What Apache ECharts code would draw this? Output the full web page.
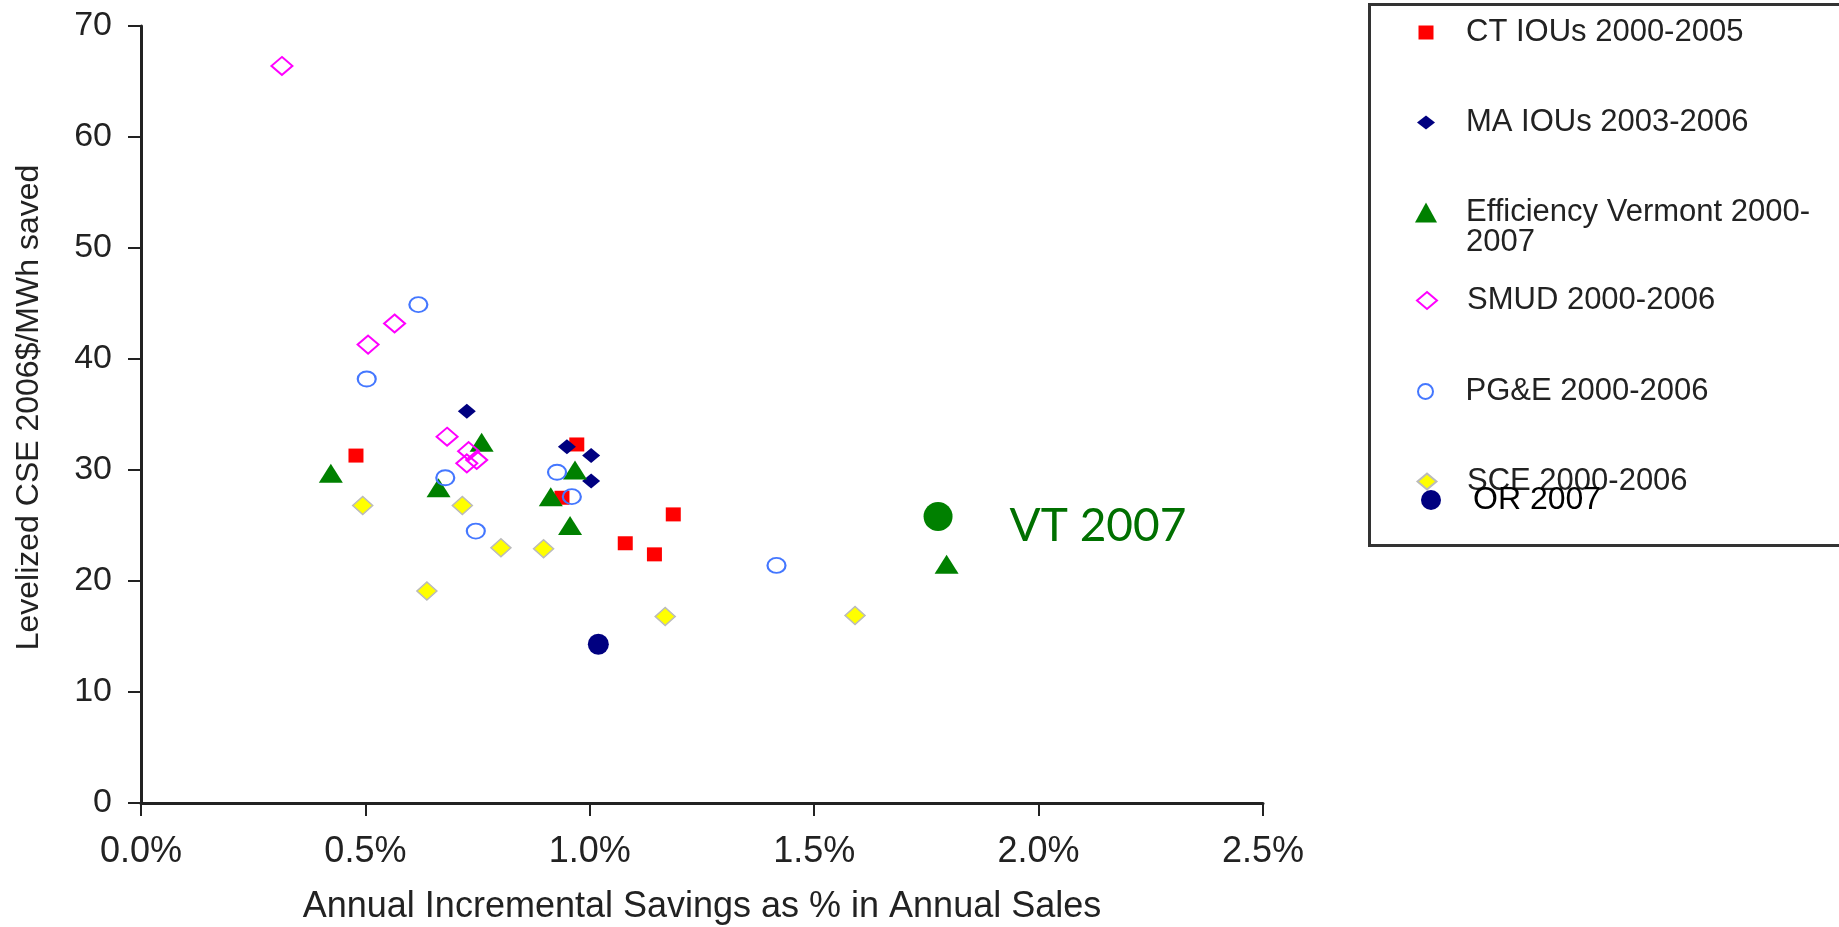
<!DOCTYPE html>
<html>
<head>
<meta charset="utf-8">
<title>CSE vs savings</title>
<script src="https://cdn.jsdelivr.net/npm/echarts@6/dist/echarts.min.js"></script>
<style>
  html, body { margin: 0; padding: 0; background: #fff; }
  #cse-scatter { width: 1839px; height: 927px; }
</style>
</head>
<body>
<div id="cse-scatter"></div>
<script>
// x = annual incremental savings (% of sales), y = levelized CSE (2006$/MWh)
var ctIous = [[0.479, 31.3], [0.971, 32.3], [0.938, 27.5], [1.079, 23.4], [1.144, 22.4], [1.186, 26.0]];
var maIous = [[0.726, 35.3], [0.949, 32.1], [1.003, 31.3], [1.003, 29.0]];
var effVermont = [[0.423, 29.7], [0.759, 32.5], [0.663, 28.4], [0.967, 30.0], [0.913, 27.6], [0.956, 25.0], [1.795, 21.5]];
var smud = [[0.314, 66.4], [0.506, 41.3], [0.565, 43.2], [0.682, 33.0], [0.730, 31.7], [0.748, 30.9], [0.726, 30.6]];
var pge = [[0.503, 38.2], [0.618, 44.9], [0.678, 29.3], [0.746, 24.5], [0.927, 29.8], [0.960, 27.6], [1.416, 21.4]];
var sce = [[0.494, 26.8], [0.716, 26.8], [0.802, 23.0], [0.897, 22.9], [0.637, 19.1], [1.168, 16.8], [1.591, 16.9]];
var or2007 = [[1.019, 14.3]];
var vt2007 = [[1.776, 25.8]];

var xTicks = ['0.0%', '0.5%', '1.0%', '1.5%', '2.0%', '2.5%'];

var font = '"Liberation Sans", Arial, sans-serif';

// one legend per entry so each row sits where it does in the original box
// cx/cy = icon centre, w/h = icon size, tx = where the text starts
function legendRow(name, cx, cy, w, h, tx, size, color, top) {
  return {
    data: [name],
    orient: 'vertical',
    left: cx - w / 2,
    top: top != null ? top : cy - 15,
    padding: 0,
    itemWidth: w,
    itemHeight: h,
    itemGap: 0,
    selectedMode: false,
    textStyle: {
      fontFamily: font,
      fontSize: size,
      color: color,
      lineHeight: 30,
      padding: [0, 0, 0, tx - (cx + w / 2 + 5)]
    }
  };
}

var evLegend = legendRow('Efficiency Vermont 2000-2007', 1426, 212, 22, 20, 1466, 31, '#222', 212 - 45);
// blank first line keeps the symbol level with the first text line
evLegend.formatter = function () { return '\nEfficiency Vermont 2000-\n2007'; };

var option = {
  animation: false,
  backgroundColor: '#fff',
  grid: {
    left: 141,
    right: 576,
    top: 26,
    bottom: 124,
    outerBoundsMode: 'none'
  },
  xAxis: {
    type: 'value',
    min: 0,
    max: 2.5,
    interval: 0.5,
    name: 'Annual Incremental Savings as % in Annual Sales',
    nameLocation: 'middle',
    nameGap: 86,
    nameTextStyle: { fontFamily: font, fontSize: 36, color: '#222' },
    axisLine: { show: true, onZero: false, lineStyle: { color: '#222', width: 3 } },
    axisTick: { show: true, length: 13, lineStyle: { color: '#222', width: 2 } },
    axisLabel: {
      margin: 31,
      fontFamily: font,
      fontSize: 36,
      color: '#222',
      formatter: function (v) { return xTicks[Math.round(v / 0.5)]; }
    },
    splitLine: { show: false }
  },
  yAxis: {
    type: 'value',
    min: 0,
    max: 70,
    interval: 10,
    name: 'Levelized CSE 2006$/MWh saved',
    nameLocation: 'middle',
    nameGap: 96,
    nameTextStyle: { fontFamily: font, fontSize: 32, color: '#222', padding: [0, 0, 0, 14] },
    axisLine: { show: true, onZero: false, lineStyle: { color: '#222', width: 3 } },
    axisTick: { show: true, length: 13, lineStyle: { color: '#222', width: 2 } },
    axisLabel: { margin: 29, fontFamily: font, fontSize: 34, color: '#222' },
    splitLine: { show: false }
  },
  legend: [
    legendRow('CT IOUs 2000-2005', 1426, 32, 15, 14, 1466, 31, '#222'),
    legendRow('MA IOUs 2003-2006', 1426, 122, 18, 14, 1466, 31, '#222'),
    evLegend,
    legendRow('SMUD 2000-2006', 1426, 300, 20, 17, 1466, 31, '#222'),
    legendRow('PG&E 2000-2006', 1426, 391, 18, 15, 1466, 31, '#222'),
    legendRow('SCE 2000-2006', 1426, 481, 19, 16, 1466, 31, '#222'),
    legendRow('OR 2007', 1431, 499, 20, 20, 1473, 32, '#000')
  ],
  graphic: [{
    type: 'rect',
    left: 1367,
    top: 2,
    shape: { width: 480, height: 541 },
    style: { fill: 'none', stroke: '#333', lineWidth: 3 },
    z: -1
  }],
  series: [
    {
      name: 'CT IOUs 2000-2005',
      type: 'scatter',
      symbol: 'rect',
      symbolSize: [15, 14],
      itemStyle: { color: '#FF0000', opacity: 1 },
      data: ctIous
    },
    {
      name: 'MA IOUs 2003-2006',
      type: 'scatter',
      symbol: 'diamond',
      symbolSize: [18, 15],
      itemStyle: { color: '#000080', opacity: 1 },
      data: maIous
    },
    {
      name: 'Efficiency Vermont 2000-2007',
      type: 'scatter',
      symbol: 'triangle',
      symbolSize: [24, 19],
      itemStyle: { color: '#008000', opacity: 1 },
      data: effVermont
    },
    {
      name: 'SMUD 2000-2006',
      type: 'scatter',
      symbol: 'diamond',
      symbolSize: [21, 18],
      itemStyle: { color: 'rgba(255,255,255,0)', borderColor: '#FF00FF', borderWidth: 2, opacity: 1 },
      data: smud
    },
    {
      name: 'PG&E 2000-2006',
      type: 'scatter',
      symbol: 'circle',
      symbolSize: [18, 15],
      itemStyle: { color: 'rgba(255,255,255,0)', borderColor: '#4477FF', borderWidth: 2, opacity: 1 },
      data: pge
    },
    {
      name: 'SCE 2000-2006',
      type: 'scatter',
      symbol: 'diamond',
      symbolSize: [20, 18],
      itemStyle: { color: '#FFFF00', borderColor: '#BBBBBB', borderWidth: 1.5, opacity: 1 },
      data: sce
    },
    {
      name: 'OR 2007',
      type: 'scatter',
      symbol: 'circle',
      symbolSize: 21,
      itemStyle: { color: '#000080', opacity: 1 },
      data: or2007
    },
    {
      name: 'VT 2007',
      type: 'scatter',
      symbol: 'circle',
      symbolSize: 29,
      itemStyle: { color: '#008000', opacity: 1 },
      label: {
        show: true,
        position: 'right',
        distance: 57,
        offset: [0, 10],
        formatter: 'VT 2007',
        fontFamily: 'Lato, "Open Sans", sans-serif',
        fontSize: 46,
        color: '#007000'
      },
      data: vt2007
    }
  ]
};

echarts.init(document.getElementById('cse-scatter')).setOption(option);
</script>
</body>
</html>
